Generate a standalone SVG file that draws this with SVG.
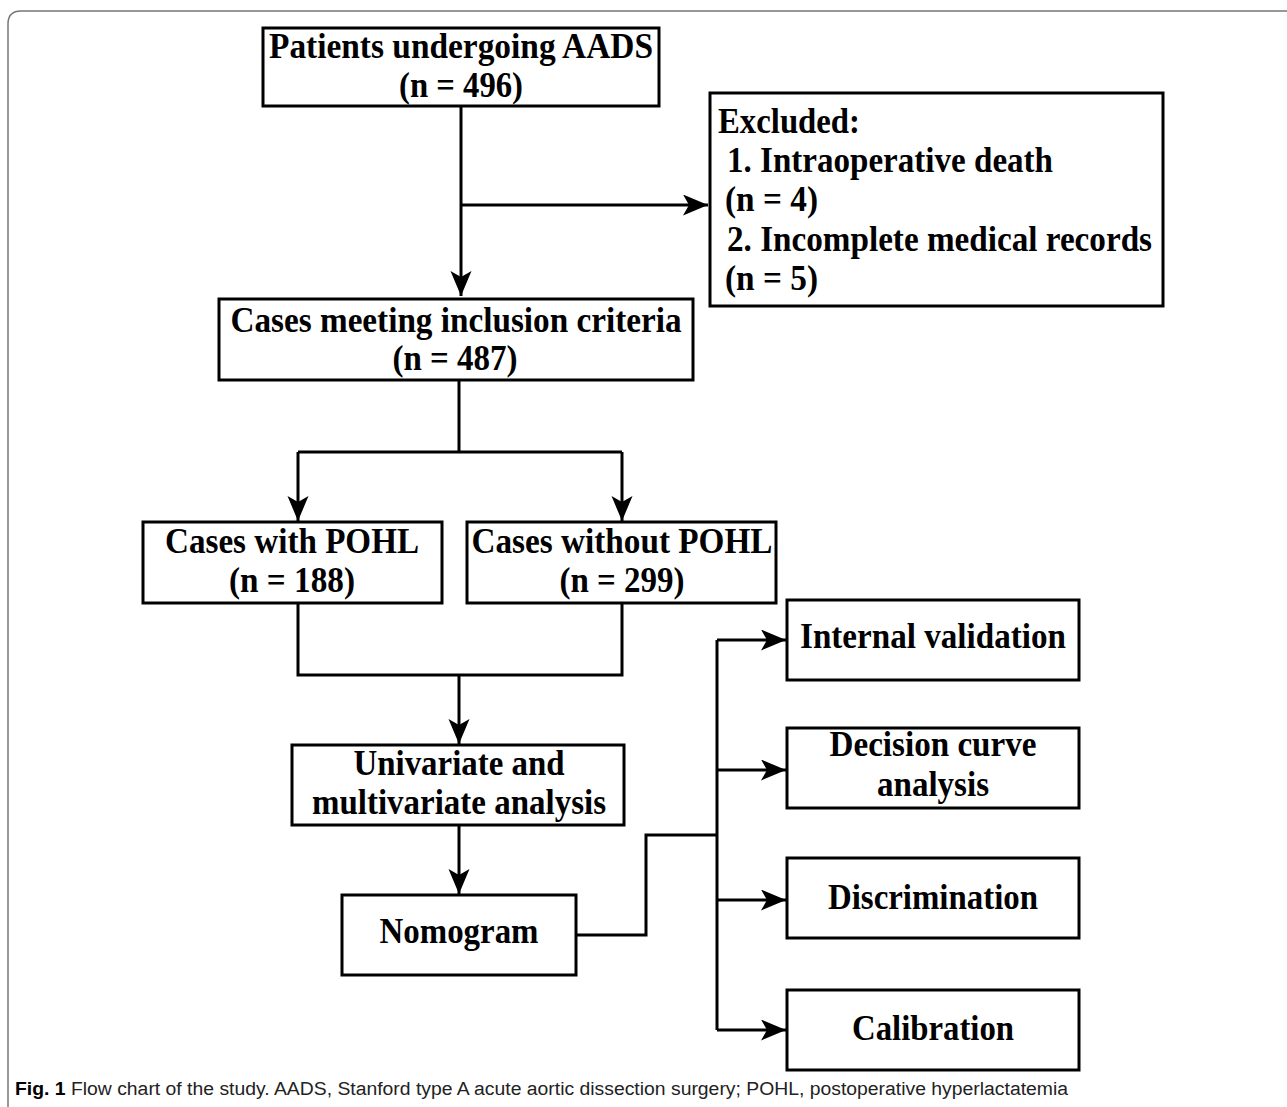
<svg xmlns="http://www.w3.org/2000/svg" width="1287" height="1107" viewBox="0 0 1287 1107">
<style>
.box{fill:#fff;stroke:#000;stroke-width:3}
.t{font-family:"Liberation Serif","Times New Roman",serif;font-weight:bold;font-size:36px;fill:#000}
.c{text-anchor:middle}
.ln{fill:none;stroke:#000;stroke-width:3}
.cap{font-family:"Liberation Sans",Arial,sans-serif;font-size:18px;fill:#222}
</style>
<defs>
<marker id="ah" markerUnits="userSpaceOnUse" markerWidth="26" markerHeight="22" refX="25" refY="10.5" orient="auto">
<path d="M0,0 L25,10.5 L0,21 L6,10.5 z" fill="#000"/>
</marker>
</defs>
<rect width="1287" height="1107" fill="#fff"/>
<path d="M8,1107 V24 Q8,11 21,11 H1287" fill="none" stroke="#777" stroke-width="1.5"/>
<g id="connectors">
<path class="ln" d="M461,106 V296" marker-end="url(#ah)"/>
<path class="ln" d="M461,205 H708" marker-end="url(#ah)"/>
<path class="ln" d="M459,380 V452 M298,452 H622"/>
<path class="ln" d="M298,452 V521" marker-end="url(#ah)"/>
<path class="ln" d="M622,452 V521" marker-end="url(#ah)"/>
<path class="ln" d="M298,603 V675 H622 V603"/>
<path class="ln" d="M459,675 V744" marker-end="url(#ah)"/>
<path class="ln" d="M459,825 V894" marker-end="url(#ah)"/>
<path class="ln" d="M576,935 H646 V835 H717 M717,640 V1030"/>
<path class="ln" d="M717,640 H786" marker-end="url(#ah)"/>
<path class="ln" d="M717,770 H786" marker-end="url(#ah)"/>
<path class="ln" d="M717,900 H786" marker-end="url(#ah)"/>
<path class="ln" d="M717,1030 H786" marker-end="url(#ah)"/>
</g>
<g id="n1"><rect class="box" x="263" y="28" width="396" height="78"/>
<text class="t c" x="461" y="58" textLength="384" lengthAdjust="spacingAndGlyphs">Patients undergoing AADS</text>
<text class="t c" x="461" y="97" textLength="124" lengthAdjust="spacingAndGlyphs">(n = 496)</text></g>
<g id="n2"><rect class="box" x="710" y="93" width="453" height="213"/>
<text class="t" x="718" y="133" textLength="142" lengthAdjust="spacingAndGlyphs">Excluded:</text>
<text class="t" x="727" y="172" textLength="326" lengthAdjust="spacingAndGlyphs">1. Intraoperative death</text>
<text class="t" x="725" y="211" textLength="93" lengthAdjust="spacingAndGlyphs">(n = 4)</text>
<text class="t" x="727" y="251" textLength="425" lengthAdjust="spacingAndGlyphs">2. Incomplete medical records</text>
<text class="t" x="725" y="290" textLength="93" lengthAdjust="spacingAndGlyphs">(n = 5)</text></g>
<g id="n3"><rect class="box" x="219" y="299" width="474" height="81"/>
<text class="t c" x="456" y="332" textLength="451" lengthAdjust="spacingAndGlyphs">Cases meeting inclusion criteria</text>
<text class="t c" x="455" y="370" textLength="125" lengthAdjust="spacingAndGlyphs">(n = 487)</text></g>
<g id="n4"><rect class="box" x="143" y="522" width="299" height="81"/>
<text class="t c" x="292" y="553" textLength="254" lengthAdjust="spacingAndGlyphs">Cases with POHL</text>
<text class="t c" x="292" y="592" textLength="126" lengthAdjust="spacingAndGlyphs">(n = 188)</text></g>
<g id="n5"><rect class="box" x="467" y="522" width="309" height="81"/>
<text class="t c" x="622" y="553" textLength="301" lengthAdjust="spacingAndGlyphs">Cases without POHL</text>
<text class="t c" x="622" y="592" textLength="125" lengthAdjust="spacingAndGlyphs">(n = 299)</text></g>
<g id="n6"><rect class="box" x="292" y="745" width="332" height="80"/>
<text class="t c" x="459" y="775" textLength="211" lengthAdjust="spacingAndGlyphs">Univariate and</text>
<text class="t c" x="459" y="814" textLength="294" lengthAdjust="spacingAndGlyphs">multivariate analysis</text></g>
<g id="n7"><rect class="box" x="342" y="895" width="234" height="80"/>
<text class="t c" x="459" y="943" textLength="159" lengthAdjust="spacingAndGlyphs">Nomogram</text></g>
<g id="n8"><rect class="box" x="787" y="600" width="292" height="80"/>
<text class="t c" x="933" y="648" textLength="266" lengthAdjust="spacingAndGlyphs">Internal validation</text></g>
<g id="n9"><rect class="box" x="787" y="728" width="292" height="80"/>
<text class="t c" x="933" y="756" textLength="207" lengthAdjust="spacingAndGlyphs">Decision curve</text>
<text class="t c" x="933" y="796" textLength="112" lengthAdjust="spacingAndGlyphs">analysis</text></g>
<g id="n10"><rect class="box" x="787" y="858" width="292" height="80"/>
<text class="t c" x="933" y="909" textLength="210" lengthAdjust="spacingAndGlyphs">Discrimination</text></g>
<g id="n11"><rect class="box" x="787" y="990" width="292" height="80"/>
<text class="t c" x="933" y="1040" textLength="162" lengthAdjust="spacingAndGlyphs">Calibration</text></g>
<text class="cap" x="15" y="1095" textLength="1053" lengthAdjust="spacingAndGlyphs"><tspan font-weight="bold" fill="#000">Fig. 1</tspan>  Flow chart of the study. AADS, Stanford type A acute aortic dissection surgery; POHL, postoperative hyperlactatemia</text>
</svg>
